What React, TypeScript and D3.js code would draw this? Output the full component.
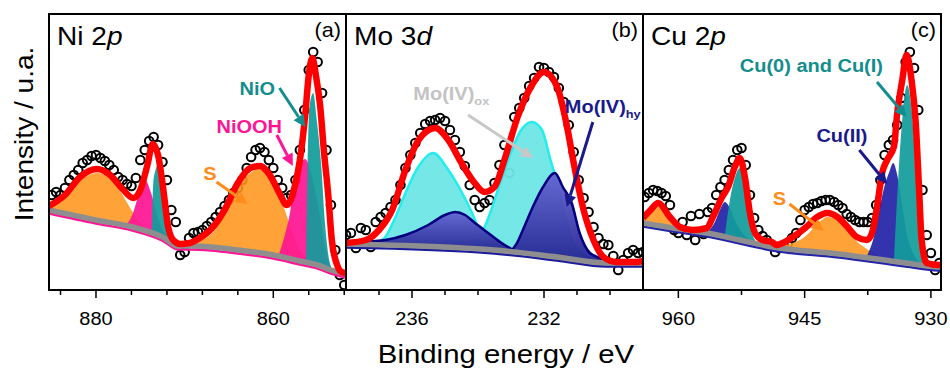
import { useEffect, useRef } from 'react';
import * as d3 from 'd3';

type Pt = [number, number];

// ---------- Ni 2p (grid 885 -> 852 eV, 0.5 eV step) ----------
const niStart = 885;
const niStep = 0.5;
const niCounts = [
  95, 98, 95, 102, 110, 115, 120, 127, 130, 134,
  135, 132, 129, 125, 120, 113, 110, 106, 104, 112,
  130, 140, 149, 153, 145, 128, 110, 80, 68, 35,
  38, 52, 57, 58, 60, 64, 68, 73, 78, 84,
  90, 97, 102, 110, 122, 133, 140, 142, 138, 130,
  122, 110, 102, 92, 95, 110, 140, 180, 220, 238,
  228, 197, 140, 85, 40, 15, 5,
];
const niEnvelope: Pt[] = [
  [885.3, 84], [883.5, 95], [881.8, 113], [879.9, 121], [878.4, 115], [877.1, 102], [875.8, 92],
  [875.0, 100], [874.2, 125], [873.6, 146], [873.0, 135], [872.4, 100], [871.9, 65], [871.3, 50],
  [870.5, 46], [869.4, 47], [868.3, 52], [866.9, 62], [865.5, 80], [864.0, 107], [862.6, 122],
  [861.5, 124], [860.4, 115], [859.2, 95], [858.5, 85], [857.6, 103], [857.0, 130], [856.4, 175],
  [856.0, 215], [855.6, 232], [855.2, 215], [854.7, 183], [854.3, 140], [853.8, 95], [853.4, 50],
  [852.8, 25], [852.3, 18], [851.8, 17],
];
const niBaseline: Pt[] = [
  [885.3, 80], [880, 70], [875.9, 63], [872.5, 53], [870.7, 44], [869.4, 44], [867, 43],
  [864, 40], [860, 35], [857, 29], [855, 25], [853.5, 20], [851.8, 16],
];
const niSatS: Pt[] = [
  [885.3, 86], [884.1, 90], [882.4, 105], [881.0, 114], [879.9, 117], [878.6, 113], [877.5, 102],
  [876.4, 86], [875.3, 70], [873.9, 58], [872.6, 53],
];
const niSatOOH: Pt[] = [
  [876.6, 65], [875.9, 75], [875.3, 92], [874.5, 111], [873.9, 100], [873.3, 82], [872.8, 66],
  [872.1, 55], [871.4, 48],
];
const niSatO: Pt[] = [
  [873.7, 56], [873.55, 105], [873.35, 118], [873.0, 125], [872.67, 110], [872.33, 80], [872.0, 58],
  [871.77, 52],
];
const niMainS: Pt[] = [
  [871.1, 46], [868.8, 49], [867.1, 55], [866.2, 65], [865.5, 80], [864.7, 92], [863.8, 105],
  [862.9, 115], [861.5, 121], [860.4, 113], [859.5, 98], [858.7, 80], [857.9, 58], [857.0, 40],
  [855.9, 28],
];
const niMainOOH: Pt[] = [
  [859.3, 37], [858.7, 55], [858.1, 78], [857.6, 108], [857.0, 125], [856.4, 131], [855.9, 122],
  [855.3, 100], [854.7, 72], [854.2, 45], [853.6, 25], [853.1, 19],
];
const niMainO: Pt[] = [
  [856.3, 30], [856.15, 120], [856.0, 170], [855.8, 190], [855.5, 197], [855.1, 170], [854.6, 125],
  [854.2, 70], [853.7, 30], [853.4, 21],
];
const niMajor = [880, 860];
const niMinor = [884, 876, 872, 868, 864, 856, 852];

// ---------- Mo 3d (grid 238 -> 229 eV, 0.15 eV step) ----------
const moStart = 238;
const moStep = 0.15;
const moCounts = [
  55, 57, 42, 62, 60, 43, 68, 73, 77, 83,
  90, 105, 122, 135, 147, 157, 166, 169, 170, 172,
  169, 160, 150, 138, 124, 105, 90, 83, 87, 90,
  107, 125, 145, 117, 173, 182, 192, 204, 212, 223,
  222, 218, 213, 202, 188, 165, 138, 110, 92, 78,
  63, 52, 46, 45, 34, 20, 30, 37, 40, 37, 38,
];
const moEnvelope: Pt[] = [
  [238.0, 47], [237.4, 50], [237.0, 60], [236.6, 80], [236.2, 120], [235.8, 150], [235.3, 162],
  [234.9, 150], [234.5, 127], [234.1, 107], [233.8, 98], [233.5, 103], [233.2, 130], [232.8, 173],
  [232.4, 203], [232.0, 218], [231.6, 203], [231.3, 163], [231.1, 127], [230.8, 80], [230.5, 50],
  [230.2, 33], [229.8, 28], [229.2, 28], [229.0, 29],
];
const moBaseline: Pt[] = [[238, 46], [233.5, 40], [231.6, 33], [230.1, 27], [229, 27]];
const moOx1: Pt[] = [
  [237.11, 47], [236.81, 53], [236.5, 73], [236.2, 97], [235.81, 123], [235.36, 137], [234.9, 120],
  [234.48, 97], [234.18, 77], [234.0, 63], [233.63, 47], [233.33, 41],
];
const moOx2: Pt[] = [
  [234.0, 45], [233.81, 62], [233.63, 77], [233.33, 107], [233.03, 135], [232.73, 158], [232.37, 168],
  [232.06, 160], [231.82, 132], [231.61, 108], [231.37, 75], [231.16, 50], [230.91, 38], [230.61, 32],
];
const moHy1: Pt[] = [
  [238.0, 46], [237.56, 47], [237.41, 48], [236.81, 50], [236.2, 55], [235.51, 65], [235.0, 75], [234.69, 78],
  [234.39, 75], [234.09, 67], [233.69, 57], [233.33, 48], [232.94, 40],
];
const moHy2: Pt[] = [
  [232.97, 40], [232.82, 47], [232.64, 60], [232.34, 83], [232.03, 103], [231.67, 117], [231.43, 103],
  [231.16, 87], [230.92, 57], [230.61, 37], [230.31, 32], [230.0, 27],
];
const moMajor = [236, 232];
const moMinor = [237, 235, 234, 233, 231, 230];

// ---------- Cu 2p (grid 964 -> 929 eV, 0.5 eV step) ----------
const cuStart = 964;
const cuStep = 0.5;
const cuCounts = [
  93, 97, 100, 99, 97, 94, 85, 60, 57, 68,
  55, 74, 50, 76, 56, 78, 82, 95, 103, 110,
  120, 130, 140, 142, 125, 95, 72, 60, 54, 50,
  44, 38, 42, 45, 46, 52, 57, 70, 80, 83,
  86, 87, 89, 90, 90, 88, 85, 82, 76, 73,
  70, 68, 68, 68, 72, 85, 110, 135, 145, 150,
  165, 192, 228, 238, 222, 180, 100, 55, 37, 20, 27,
];
const cuEnvelope: Pt[] = [
  [964.2, 72], [963.3, 80], [962.4, 87], [961.0, 73], [959.8, 63], [958.3, 60], [956.6, 62],
  [955.9, 73], [954.8, 93], [954.1, 103], [953.3, 123], [952.7, 132], [952.1, 113], [951.5, 77],
  [950.9, 57], [950.0, 50], [948.9, 48], [948.3, 45], [947.6, 47], [946.4, 53], [944.8, 63],
  [943.5, 73], [942.3, 77], [941.1, 73], [939.9, 63], [938.8, 53], [937.6, 50], [937.0, 57],
  [936.4, 83], [935.8, 117], [935.2, 130], [934.4, 143], [934.0, 177], [933.4, 210], [932.9, 235],
  [932.3, 210], [931.8, 167], [931.4, 100], [931.1, 50], [930.5, 27], [929.1, 25], [928.8, 25],
];
const cuBaseline: Pt[] = [
  [964.2, 67], [960.6, 62], [956.6, 57], [952.7, 50], [948.8, 43], [940.9, 36], [933.0, 27],
  [929.1, 23], [928.8, 23],
];
const cuSatS: Pt[] = [[964.18, 75], [963.23, 80], [962.4, 85], [961.58, 78], [960.75, 68], [959.92, 62]];
const cuSatII: Pt[] = [
  [956.5, 58], [955.66, 68], [955.07, 80], [954.47, 88], [953.88, 82], [953.29, 70], [952.46, 58], [951.5, 50],
];
const cuSat0I: Pt[] = [
  [954.47, 55], [953.88, 90], [953.29, 112], [952.7, 122], [952.1, 100], [951.5, 65], [950.9, 50], [950.33, 46],
];
const cuMainS: Pt[] = [
  [948.55, 43], [946.8, 46], [945.0, 53], [943.82, 63], [942.28, 73], [940.86, 68], [939.91, 60],
  [938.73, 48], [937.78, 42], [936.72, 36],
];
const cuMainII: Pt[] = [
  [937.55, 35], [936.72, 55], [936.13, 80], [935.54, 103], [934.95, 118], [934.48, 127], [934.0, 115],
  [933.41, 85], [932.82, 55], [932.0, 35], [931.17, 27],
];
const cuMain0I: Pt[] = [
  [934.36, 35], [933.89, 110], [933.41, 170], [932.82, 205], [932.35, 185], [931.88, 135], [931.52, 85],
  [931.17, 40], [930.82, 26],
];
const cuMajor = [960, 945, 930];
const cuMinor = [952.5, 937.5];

const FONT = '"Liberation Sans", Arial, Helvetica, sans-serif';
const ORANGE = '#ff961e';
const PINK = '#ff1493';
const TEAL = '#139c9c';
const TEAL_TXT = '#138d8d';
const NAVY = '#000080';

const grid = ( start: number, step: number, counts: number[] ): Pt[] =>
  counts.map( ( c, i ) => [ start - i * step, c ] as Pt );

interface Comp { pts: Pt[]; fill: string; opacity: number; stroke?: string }
interface Label {
  parts: { t: string; italic?: boolean; sub?: boolean }[];
  at: Pt; color: string; from: Pt; to: Pt;
}

const panels = [
  {
    id: 'a', domain: [ 885.3, 851.8 ], range: [ 49, 346 ],
    title: [ { t: 'Ni 2' }, { t: 'p', italic: true } ], tag: '(a)',
    data: grid( niStart, niStep, niCounts ), envelope: niEnvelope, baseline: niBaseline,
    major: niMajor, minor: niMinor, tail: PINK,
    comps: [
      { pts: niSatS, fill: ORANGE, opacity: 0.88 },
      { pts: niSatOOH, fill: PINK, opacity: 0.93 },
      { pts: niSatO, fill: TEAL, opacity: 0.93 },
      { pts: niMainS, fill: ORANGE, opacity: 0.88 },
      { pts: niMainOOH, fill: PINK, opacity: 0.93 },
      { pts: niMainO, fill: TEAL, opacity: 0.93 },
    ] as Comp[],
    labels: [
      { parts: [ { t: 'NiO' } ], at: [ 863.8, 195 ], color: TEAL_TXT, from: [ 859.3, 202 ], to: [ 856.4, 163 ] },
      { parts: [ { t: 'NiOOH' } ], at: [ 866.4, 157 ], color: PINK, from: [ 859.6, 155 ], to: [ 857.8, 124 ] },
      { parts: [ { t: 'S' } ], at: [ 867.9, 110 ], color: '#ff8c1a', from: [ 866.4, 108 ], to: [ 862.9, 86 ] },
    ] as Label[],
  },
  {
    id: 'b', domain: [ 238, 229 ], range: [ 346, 643 ],
    title: [ { t: 'Mo 3' }, { t: 'd', italic: true } ], tag: '(b)',
    data: grid( moStart, moStep, moCounts ), envelope: moEnvelope, baseline: moBaseline,
    major: moMajor, minor: moMinor, tail: '#1c1c9a',
    comps: [
      { pts: moOx1, fill: '#6fe6e6', opacity: 0.95, stroke: '#22eeee' },
      { pts: moOx2, fill: '#6fe6e6', opacity: 0.95, stroke: '#22eeee' },
      { pts: moHy1, fill: 'url(#navyGrad)', opacity: 0.95, stroke: NAVY },
      { pts: moHy2, fill: 'url(#navyGrad)', opacity: 0.95, stroke: NAVY },
    ] as Comp[],
    labels: [
      { parts: [ { t: 'Mo(IV)' }, { t: 'ox', sub: true } ], at: [ 235.96, 190 ], color: '#c3c3c3', from: [ 234.3, 175 ], to: [ 232.33, 132 ] },
      { parts: [ { t: 'Mo(IV)' }, { t: 'hy', sub: true } ], at: [ 231.37, 177 ], color: '#1a1a8c', from: [ 230.52, 168 ], to: [ 231.31, 83 ] },
    ] as Label[],
  },
  {
    id: 'c', domain: [ 964.2, 928.8 ], range: [ 643, 941 ],
    title: [ { t: 'Cu 2' }, { t: 'p', italic: true } ], tag: '(c)',
    data: grid( cuStart, cuStep, cuCounts ), envelope: cuEnvelope, baseline: cuBaseline,
    major: cuMajor, minor: cuMinor, tail: '#2424a8',
    comps: [
      { pts: cuSatS, fill: ORANGE, opacity: 0.88 },
      { pts: cuSatII, fill: '#2424a8', opacity: 0.93 },
      { pts: cuSat0I, fill: TEAL, opacity: 0.93 },
      { pts: cuMainS, fill: ORANGE, opacity: 0.88 },
      { pts: cuMainII, fill: '#2424a8', opacity: 0.93 },
      { pts: cuMain0I, fill: TEAL, opacity: 0.93 },
    ] as Comp[],
    labels: [
      { parts: [ { t: 'Cu(0) and Cu(I)' } ], at: [ 952.7, 218 ], color: TEAL_TXT, from: [ 936.4, 208 ], to: [ 932.9, 173 ] },
      { parts: [ { t: 'Cu(II)' } ], at: [ 943.6, 148 ], color: '#1a1a8c', from: [ 938.5, 140 ], to: [ 935.2, 106 ] },
      { parts: [ { t: 'S' } ], at: [ 948.8, 85 ], color: '#ff8c1a', from: [ 946.8, 86 ], to: [ 942.7, 59 ] },
    ] as Label[],
  },
];

const PLOT_TOP = 14;
const PLOT_BOTTOM = 290;

function addText(
  g: d3.Selection<SVGGElement, unknown, null, undefined>,
  x: number, y: number,
  parts: { t: string; italic?: boolean; sub?: boolean }[],
  o: { size: number; weight?: string; fill?: string; anchor?: string; sx?: number; rotate?: number },
) {
  const t = g.append( 'text' )
    .attr( 'transform', `translate(${ x },${ y }) rotate(${ o.rotate || 0 }) scale(${ o.sx || 1},1)` )
    .attr( 'text-anchor', o.anchor || 'start' )
    .attr( 'font-family', FONT )
    .attr( 'font-size', o.size )
    .attr( 'font-weight', o.weight || 'normal' )
    .attr( 'fill', o.fill || '#000' );
  parts.forEach( p => {
    const s = t.append( 'tspan' ).text( p.t );
    if ( p.italic ) s.attr( 'font-style', 'italic' );
    if ( p.sub ) s.attr( 'font-size', o.size * 0.64 ).attr( 'dy', o.size * 0.28 );
  } );
  return t;
}

function addArrow(
  g: d3.Selection<SVGGElement, unknown, null, undefined>,
  x1: number, y1: number, x2: number, y2: number, color: string,
) {
  const a = Math.atan2( y2 - y1, x2 - x1 );
  const hl = 12, hw = 6;
  const bx = x2 - hl * Math.cos( a ), by = y2 - hl * Math.sin( a );
  g.append( 'line' )
    .attr( 'x1', x1 ).attr( 'y1', y1 ).attr( 'x2', bx ).attr( 'y2', by )
    .attr( 'stroke', color ).attr( 'stroke-width', 3 );
  g.append( 'path' )
    .attr( 'd', `M${ x2 },${ y2 }L${ bx + hw * Math.sin( a ) },${ by - hw * Math.cos( a ) }L${ bx - hw * Math.sin( a ) },${ by + hw * Math.cos( a ) }Z` )
    .attr( 'fill', color );
}

export default function App() {
  const svgRef = useRef<SVGSVGElement>( null );

  useEffect( () => {
    if ( !svgRef.current ) return;
    const svg = d3.select( svgRef.current );
    svg.selectAll( '*' ).remove();

    const defs = svg.append( 'defs' );
    const grad = defs.append( 'linearGradient' ).attr( 'id', 'navyGrad' )
      .attr( 'x1', 0 ).attr( 'y1', 0 ).attr( 'x2', 0 ).attr( 'y2', 1 );
    grad.append( 'stop' ).attr( 'offset', '0%' ).attr( 'stop-color', '#6464d2' );
    grad.append( 'stop' ).attr( 'offset', '100%' ).attr( 'stop-color', '#22228f' );

    const y = d3.scaleLinear().domain( [ 0, 276 ] ).range( [ PLOT_BOTTOM, PLOT_TOP ] );
    const root = svg.append( 'g' );

    panels.forEach( p => {
      const x = d3.scaleLinear().domain( p.domain ).range( p.range );
      const base = d3.scaleLinear()
        .domain( p.baseline.map( d => d[ 0 ] ) )
        .range( p.baseline.map( d => d[ 1 ] ) );

      defs.append( 'clipPath' ).attr( 'id', `clip-${ p.id }` )
        .append( 'rect' )
        .attr( 'x', p.range[ 0 ] ).attr( 'y', PLOT_TOP )
        .attr( 'width', p.range[ 1 ] - p.range[ 0 ] ).attr( 'height', PLOT_BOTTOM - PLOT_TOP );

      const g = root.append( 'g' ).attr( 'clip-path', `url(#clip-${ p.id })` );

      // measured points
      g.append( 'g' )
        .selectAll( 'circle' )
        .data( p.data )
        .join( 'circle' )
        .attr( 'cx', d => x( d[ 0 ] ) )
        .attr( 'cy', d => y( d[ 1 ] ) )
        .attr( 'r', 4.3 )
        .attr( 'fill', 'none' )
        .attr( 'stroke', '#000' )
        .attr( 'stroke-width', 2 );

      const line = d3.line<Pt>()
        .x( d => x( d[ 0 ] ) )
        .y( d => y( d[ 1 ] ) )
        .curve( d3.curveMonotoneX );

      // component tails just under the background line
      g.append( 'path' ).datum( p.baseline ).attr( 'd', line )
        .attr( 'transform', 'translate(0,3.5)' )
        .attr( 'fill', 'none' ).attr( 'stroke', p.tail ).attr( 'stroke-width', 2.5 );

      // fitted components
      const area = d3.area<Pt>()
        .x( d => x( d[ 0 ] ) )
        .y0( d => y( base( d[ 0 ] ) ) )
        .y1( d => y( d[ 1 ] ) )
        .curve( d3.curveMonotoneX );
      p.comps.forEach( c => {
        g.append( 'path' )
          .datum( c.pts )
          .attr( 'd', area )
          .attr( 'fill', c.fill )
          .attr( 'fill-opacity', c.opacity )
          .attr( 'stroke', c.stroke || 'none' )
          .attr( 'stroke-width', 2.5 );
      } );

      g.append( 'path' ).datum( p.baseline ).attr( 'd', line )
        .attr( 'fill', 'none' ).attr( 'stroke', '#8e8e8e' ).attr( 'stroke-width', 5.5 );
      g.append( 'path' ).datum( p.envelope ).attr( 'd', line )
        .attr( 'fill', 'none' ).attr( 'stroke', '#ff0000' ).attr( 'stroke-width', 6.5 )
        .attr( 'stroke-linejoin', 'round' );

      // frame
      root.append( 'rect' )
        .attr( 'x', p.range[ 0 ] ).attr( 'y', PLOT_TOP )
        .attr( 'width', p.range[ 1 ] - p.range[ 0 ] ).attr( 'height', PLOT_BOTTOM - PLOT_TOP )
        .attr( 'fill', 'none' ).attr( 'stroke', '#000' ).attr( 'stroke-width', 2 );

      // ticks
      const tg = root.append( 'g' );
      p.major.forEach( v => {
        tg.append( 'line' ).attr( 'x1', x( v ) ).attr( 'x2', x( v ) )
          .attr( 'y1', PLOT_BOTTOM ).attr( 'y2', PLOT_BOTTOM + 8 )
          .attr( 'stroke', '#000' ).attr( 'stroke-width', 1.5 );
        addText( tg, x( v ), 325, [ { t: String( v ) } ], { size: 18.5, anchor: 'middle', sx: 1.08 } );
      } );
      p.minor.forEach( v => {
        tg.append( 'line' ).attr( 'x1', x( v ) ).attr( 'x2', x( v ) )
          .attr( 'y1', PLOT_BOTTOM ).attr( 'y2', PLOT_BOTTOM + 5 )
          .attr( 'stroke', '#000' ).attr( 'stroke-width', 1.5 );
      } );

      // titles
      addText( root, p.range[ 0 ] + 8, 45, p.title, { size: 26, sx: 1.08 } );
      addText( root, p.range[ 1 ] - 5, 37, [ { t: p.tag } ], { size: 20, anchor: 'end', sx: 1.08 } );

      // annotations
      p.labels.forEach( l => {
        addText( root, x( l.at[ 0 ] ), y( l.at[ 1 ] ), l.parts, { size: 18.5, weight: 'bold', fill: l.color, sx: 1.08 } );
        addArrow( root, x( l.from[ 0 ] ), y( l.from[ 1 ] ), x( l.to[ 0 ] ), y( l.to[ 1 ] ), l.color === '#c3c3c3' ? '#c8c8c8' : l.color );
      } );
    } );

    addText( root, 506, 363, [ { t: 'Binding energy / eV' } ], { size: 26, anchor: 'middle', sx: 1.13 } );
    addText( root, 33, 134, [ { t: 'Intensity / u.a.' } ], { size: 26, anchor: 'middle', sx: 1.08, rotate: -90 } );
  }, [] );

  return (
    <svg
      ref={ svgRef }
      width={ 950 }
      height={ 368 }
      style={ { position: 'absolute', left: 0, top: 0, background: '#fff' } }
    />
  );
}
